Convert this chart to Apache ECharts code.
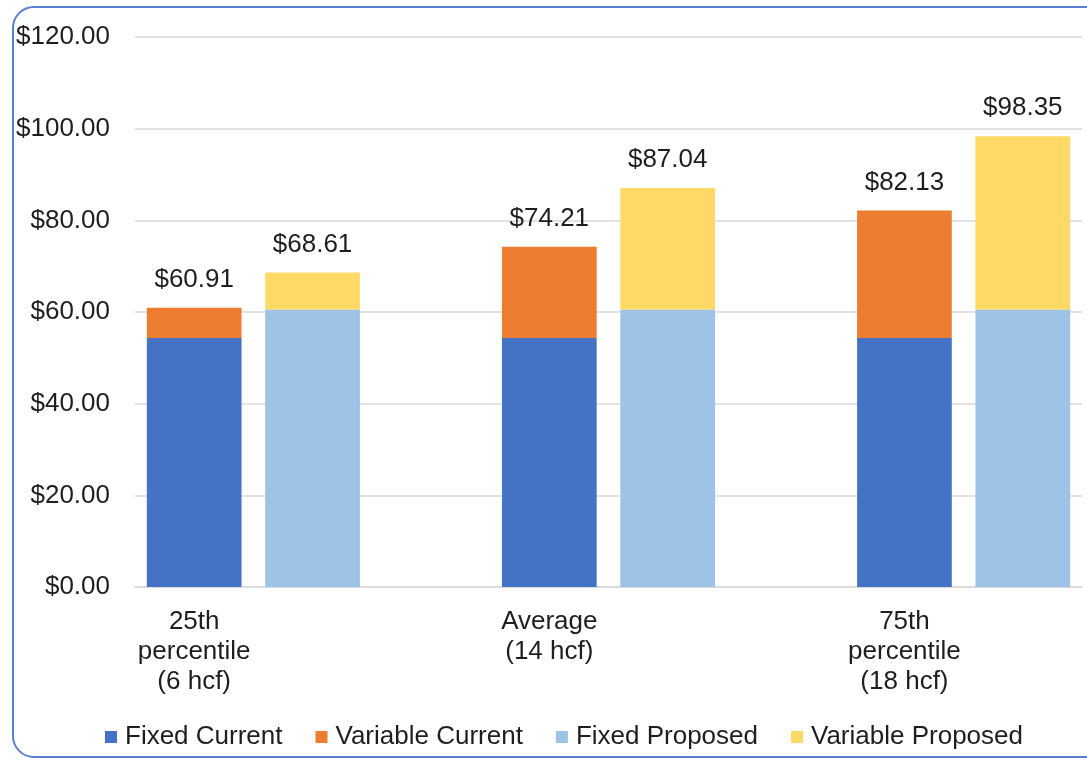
<!DOCTYPE html>
<html>
<head>
<meta charset="utf-8">
<title>Bill comparison</title>
<script src="https://cdn.jsdelivr.net/npm/echarts@6/dist/echarts.min.js"></script>
<style>
  html, body { margin: 0; padding: 0; background: #fff; }
  #frame {
    position: absolute; left: 12px; top: 6px; width: 1200px; height: 752px;
    border: 2px solid #5b7fd0; border-radius: 22px; box-sizing: border-box;
  }
  #chart { position: absolute; left: 0; top: 0; width: 1087px; height: 764px; }
</style>
</head>
<body>
<div id="frame"></div>
<div id="chart"></div>
<script>
// slots along the x axis: label slot, proposed slot, empty gap
var categories = ['25th\npercentile\n(6 hcf)', ' ', '  ', 'Average\n(14 hcf)', '   ', '    ', '75th\npercentile\n(18 hcf)', '     ']
var currentSlots = [0, 3, 6]
var proposedSlots = [1, 4, 7]

var fixedCurrent = [54.33, 54.33, 54.33]
var variableCurrent = [6.58, 19.88, 27.80]
var fixedProposed = [60.52, 60.52, 60.52]
var variableProposed = [8.09, 26.52, 37.83]

var yTicks = { min: 0, max: 120, interval: 20 }

var colors = {
  fixedCurrent: '#4472c4',
  variableCurrent: '#ed7d31',
  fixedProposed: '#9dc3e6',
  variableProposed: '#ffd966'
}

var font = 'Liberation Sans, Arial, sans-serif'
var textColor = '#1e1e1e'

function toSlots(values, slots) {
  var out = categories.map(function () { return '-' })
  slots.forEach(function (s, i) { out[s] = values[i] })
  return out
}

function totalLabel(fixed, variable, slots) {
  return {
    show: true,
    position: 'top',
    distance: 15,
    color: textColor,
    fontFamily: font,
    fontSize: 26,
    formatter: function (p) {
      var i = slots.indexOf(p.dataIndex)
      return '$' + (fixed[i] + variable[i]).toFixed(2)
    }
  }
}

var chart = echarts.init(document.getElementById('chart'), null, { renderer: 'canvas' })

chart.setOption({
  animation: false,
  grid: { left: 135, right: 5, top: 37, bottom: 177 },
  legend: {
    left: 100,
    top: 719,
    itemWidth: 12,
    itemHeight: 12,
    itemGap: 33,
    icon: 'rect',
    textStyle: { color: textColor, fontFamily: font, fontSize: 26, padding: [0, 0, 0, 3] },
    data: ['Fixed Current', 'Variable Current', 'Fixed Proposed', 'Variable Proposed']
  },
  xAxis: {
    type: 'category',
    data: categories,
    axisTick: { show: false },
    axisLine: { lineStyle: { color: '#d9d9d9', width: 1.5 } },
    axisLabel: {
      interval: 0,
      margin: 20,
      color: textColor,
      fontFamily: font,
      fontSize: 26,
      lineHeight: 30
    }
  },
  yAxis: {
    type: 'value',
    min: yTicks.min,
    max: yTicks.max,
    interval: yTicks.interval,
    axisLine: { show: false },
    axisTick: { show: false },
    splitLine: { lineStyle: { color: '#d9d9d9', width: 1.5 } },
    axisLabel: {
      margin: 25,
      color: textColor,
      fontFamily: font,
      fontSize: 26,
      formatter: function (v) { return '$' + v.toFixed(2) }
    }
  },
  series: [
    {
      name: 'Fixed Current', type: 'bar', stack: 'bill', barWidth: '80%',
      itemStyle: { color: colors.fixedCurrent },
      data: toSlots(fixedCurrent, currentSlots)
    },
    {
      name: 'Variable Current', type: 'bar', stack: 'bill', barWidth: '80%',
      itemStyle: { color: colors.variableCurrent },
      label: totalLabel(fixedCurrent, variableCurrent, currentSlots),
      data: toSlots(variableCurrent, currentSlots)
    },
    {
      name: 'Fixed Proposed', type: 'bar', stack: 'bill', barWidth: '80%',
      itemStyle: { color: colors.fixedProposed },
      data: toSlots(fixedProposed, proposedSlots)
    },
    {
      name: 'Variable Proposed', type: 'bar', stack: 'bill', barWidth: '80%',
      itemStyle: { color: colors.variableProposed },
      label: totalLabel(fixedProposed, variableProposed, proposedSlots),
      data: toSlots(variableProposed, proposedSlots)
    }
  ]
})
</script>
</body>
</html>
